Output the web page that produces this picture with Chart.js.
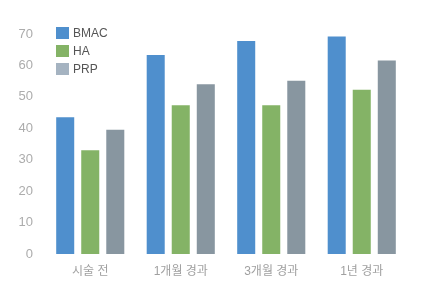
<!DOCTYPE html>
<html>
<head>
<meta charset="utf-8">
<script src="https://cdn.jsdelivr.net/npm/chart.js@4"></script>
<style>
  html, body { margin: 0; padding: 0; background: #fff; }
  #wrap { width: 433px; height: 297px; }
</style>
</head>
<body>
<div id="wrap"><canvas id="barChart"></canvas></div>
<script>
const categories = ["시술 전", "1개월 경과", "3개월 경과", "1년 경과"];
const bmacValues = [43.5, 63.3, 67.8, 69.2];
const haValues = [33, 47.3, 47.3, 52.3];
const prpValues = [39.5, 54, 55.1, 61.6];
const yTicks = [0, 10, 20, 30, 40, 50, 60, 70];

const FONT = "'Helvetica Neue', 'Liberation Sans', 'Noto Sans CJK KR', sans-serif";

// legend drawn inside the plot, top-left
const insideLegend = {
    id: 'insideLegend',
    afterDraw(chart) {
        const ctx = chart.ctx;
        ctx.save();
        ctx.font = '12px ' + FONT;
        ctx.textBaseline = 'middle';
        chart.data.datasets.forEach((ds, i) => {
            const y = 27 + i * 18;
            ctx.fillStyle = ds.legendColor;
            ctx.fillRect(56, y, 13, 12);
            ctx.fillStyle = '#555';
            ctx.fillText(ds.label, 73, y + 6.5);
        });
        ctx.restore();
    }
};

function drawBarChart() {
    const ctx = document.getElementById('barChart').getContext('2d');
    window.myBarChart = new Chart(ctx, {
        type: 'bar',
        data: {
            labels: categories,
            datasets: [
                { label: 'BMAC', data: bmacValues, backgroundColor: '#4f8fcd', legendColor: '#4f8fcd' },
                { label: 'HA', data: haValues, backgroundColor: '#84b366', legendColor: '#84b366' },
                { label: 'PRP', data: prpValues, backgroundColor: '#8896a0', legendColor: '#a5b3c1' }
            ]
        },
        options: {
            responsive: true,
            maintainAspectRatio: false,
            animation: false,
            layout: { padding: { top: 34, right: 26, bottom: 0, left: 0 } },
            datasets: { bar: { categoryPercentage: 0.83, barPercentage: 0.72 } },
            plugins: {
                legend: { display: false },
                tooltip: { enabled: false }
            },
            scales: {
                x: {
                    grid: { display: false },
                    border: { display: false },
                    ticks: { color: '#a0a0a0', font: { size: 12, family: FONT }, padding: 2 },
                    afterFit: (scale) => { scale.height = 43; }
                },
                y: {
                    min: 0,
                    max: 70,
                    grid: { display: false },
                    border: { display: false },
                    afterBuildTicks: (scale) => { scale.ticks = yTicks.map(v => ({ value: v })); },
                    ticks: { color: '#acacac', font: { size: 13, family: FONT }, padding: 4 },
                    afterFit: (scale) => { scale.width = 45; }
                }
            }
        },
        plugins: [insideLegend]
    });
}

drawBarChart();
</script>
</body>
</html>
